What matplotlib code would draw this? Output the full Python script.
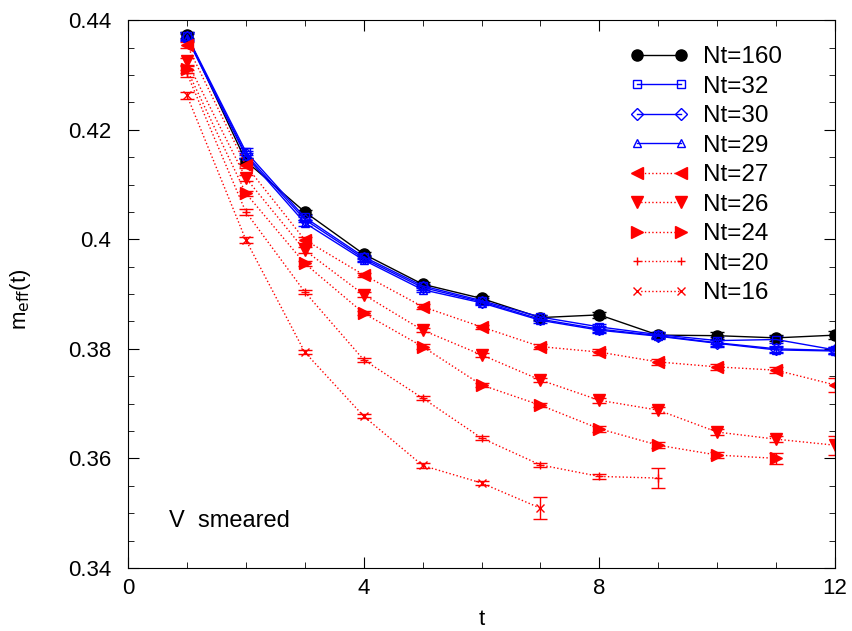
import matplotlib.pyplot as plt
from matplotlib.lines import Line2D
from matplotlib.ticker import MultipleLocator, FormatStrFormatter

plt.rcParams['font.family'] = ['Liberation Sans', 'DejaVu Sans']

t = [1, 2, 3, 4, 5, 6, 7, 8, 9, 10, 11, 12]

# effective mass values per temporal extent
nt160 = [0.4373, 0.4143, 0.4050, 0.3973, 0.3918, 0.3892, 0.3857, 0.3862, 0.3825, 0.3824, 0.3820, 0.3825]
nt32 = [0.4372, 0.4160, 0.4040, 0.3968, 0.3915, 0.3888, 0.3858, 0.3840, 0.3826, 0.3815, 0.3817, 0.3798]
nt30 = [0.4370, 0.4155, 0.4036, 0.3965, 0.3912, 0.3886, 0.3854, 0.3836, 0.3824, 0.3811, 0.3800, 0.3797]
nt29 = [0.4368, 0.4152, 0.4030, 0.3962, 0.3908, 0.3884, 0.3852, 0.3834, 0.3823, 0.3810, 0.3798, 0.3796]
nt27 = [0.4355, 0.4135, 0.3999, 0.3935, 0.3877, 0.3840, 0.3804, 0.3794, 0.3776, 0.3767, 0.3761, 0.3734]
nt26 = [0.4325, 0.4112, 0.3980, 0.3899, 0.3834, 0.3789, 0.3743, 0.3706, 0.3688, 0.3648, 0.3635, 0.3624]
nt24 = [0.4310, 0.4084, 0.3956, 0.3865, 0.3804, 0.3734, 0.3697, 0.3654, 0.3624, 0.3606, 0.3600]
nt20 = [0.4303, 0.4050, 0.3904, 0.3780, 0.3710, 0.3637, 0.3588, 0.3567, 0.3564]
nt16 = [0.4263, 0.3999, 0.3794, 0.3677, 0.3587, 0.3555, 0.3509]

err160 = [0.0006, 0.0005, 0.0004, 0.0004, 0.0004, 0.0004, 0.0005, 0.0005, 0.0005, 0.0006, 0.0006, 0.0007]
err32 = [0.0006, 0.0006, 0.0005, 0.0004, 0.0004, 0.0004, 0.0004, 0.0005, 0.0005, 0.0006, 0.0006, 0.0006]
err30 = [0.0006, 0.0006, 0.0005, 0.0004, 0.0004, 0.0004, 0.0004, 0.0005, 0.0005, 0.0006, 0.0006, 0.0006]
err29 = [0.0006, 0.0006, 0.0005, 0.0004, 0.0004, 0.0004, 0.0004, 0.0005, 0.0005, 0.0006, 0.0006, 0.0006]
err27 = [0.0006, 0.0005, 0.0005, 0.0004, 0.0004, 0.0004, 0.0004, 0.0005, 0.0005, 0.0006, 0.0006, 0.0012]
err26 = [0.0006, 0.0005, 0.0005, 0.0004, 0.0004, 0.0004, 0.0004, 0.0005, 0.0005, 0.0006, 0.0006, 0.0017]
err24 = [0.0006, 0.0005, 0.0005, 0.0004, 0.0004, 0.0004, 0.0004, 0.0005, 0.0006, 0.0006, 0.0010]
err20 = [0.0006, 0.0005, 0.0004, 0.0004, 0.0004, 0.0004, 0.0004, 0.0005, 0.0018]
err16 = [0.0006, 0.0005, 0.0004, 0.0004, 0.0004, 0.0004, 0.0020]

series = [
    ('Nt=160', nt160, err160, 'black', '-', 'o', True),
    ('Nt=32', nt32, err32, '#0000ff', '-', 's', False),
    ('Nt=30', nt30, err30, '#0000ff', '-', 'D', False),
    ('Nt=29', nt29, err29, '#0000ff', '-', '^', False),
    ('Nt=27', nt27, err27, '#ff0000', ':', '<', True),
    ('Nt=26', nt26, err26, '#ff0000', ':', 'v', True),
    ('Nt=24', nt24, err24, '#ff0000', ':', '>', True),
    ('Nt=20', nt20, err20, '#ff0000', ':', '+', True),
    ('Nt=16', nt16, err16, '#ff0000', ':', 'x', True),
]

fig = plt.figure(figsize=(8.53, 6.31), dpi=100)
ax = fig.add_axes([0.150, 0.100, 0.829, 0.868])

handles = []
for label, vals, errs, color, ls, mk, filled in series:
    ms = 8 if mk in 'o<v>' else 6
    style = dict(color=color, ls=ls, lw=1.0, marker=mk, ms=ms,
                 mfc=color if filled else 'none', mec=color, mew=1.0)
    ax.errorbar(t[:len(vals)], vals, yerr=errs, capsize=5, elinewidth=1.0, **style)
    handles.append(Line2D([], [], label=label, **style))

ax.set_xlim(0, 12)
ax.set_ylim(0.34, 0.44)
ax.xaxis.set_major_locator(MultipleLocator(4))
ax.xaxis.set_minor_locator(MultipleLocator(1))
ax.yaxis.set_major_locator(MultipleLocator(0.02))
ax.yaxis.set_minor_locator(MultipleLocator(0.005))
ax.yaxis.set_major_formatter(FormatStrFormatter('%g'))
ax.tick_params(which='both', direction='in', top=True, right=True, labelsize=16)
ax.tick_params(axis='y', pad=12)
ax.tick_params(axis='x', pad=7)
ax.tick_params(which='major', length=8)
ax.tick_params(which='minor', length=4)

ax.set_xlabel('t', fontsize=16)
ax.set_ylabel(r'm$_{\mathrm{eff}}$(t)', fontsize=16)
ax.xaxis.set_label_coords(0.5, -0.075)
ax.yaxis.set_label_coords(-0.134, 0.49)

ax.text(0.7, 0.3475, 'V  smeared', fontsize=17, va='baseline')

ax.legend(handles=handles, loc='upper left', frameon=False, numpoints=2,
          handlelength=2.4, fontsize=17.5, labelspacing=0.31, handletextpad=0.62,
          borderpad=0, borderaxespad=0,
          bbox_to_anchor=(0.7386, 0.927), bbox_transform=fig.transFigure)

fig.savefig('out.png', dpi=100)
